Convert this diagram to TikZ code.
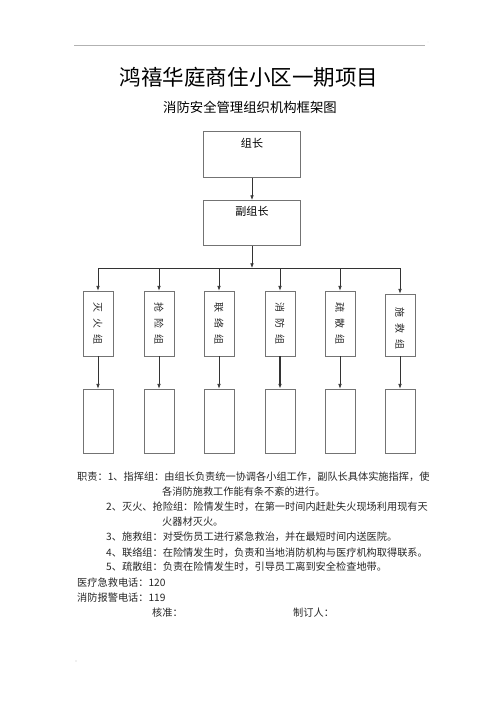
\documentclass[tikz,border=0pt]{standalone}
\usepackage{fontspec}
\setmainfont{Noto Sans CJK SC}
\usetikzlibrary{arrows.meta,positioning}

\begin{document}
\begin{tikzpicture}[x=0.03cm, y=-0.03cm,
    fleche/.style={-{Latex[length=4pt,width=3pt]}, draw=black!80, line width=0.5pt},
    boite/.style={draw=black!55, line width=0.6pt, minimum width=2.91cm, minimum height=1.36cm, inner sep=0pt},
    colonne/.style={draw=black!55, line width=0.6pt, minimum width=0.9cm, minimum height=1.95cm, inner sep=0pt},
    vertical/.style={rotate=-90, font=\fontsize{8.5pt}{9pt}\selectfont, text=black!85},
    ligne/.style={anchor=west, inner sep=0pt, font=\fontsize{8.7pt}{10pt}\selectfont, text=black!85}]
                \useasboundingbox (0,0) rectangle (500,708);

                % En-tête de page
                \draw[gray!60, line width=0.5pt] (74,45) -- (425,45);
                \fill[gray!50] (428,42) circle (0.4pt);
                \node (titre) at (249,77) {\fontsize{18.4pt}{20pt}\selectfont 鸿禧华庭商住小区一期项目};
                \node (soustitre) at (250,107) {\fontsize{11.4pt}{13pt}\selectfont 消防安全管理组织机构框架图};

                % Direction
                \node[boite, label={[anchor=north, yshift=-2pt, font=\fontsize{9.4pt}{10pt}\selectfont]north:组长}] (chef) at (252,154.5) {};
                \node[boite, label={[anchor=north, yshift=-2pt, font=\fontsize{9.4pt}{10pt}\selectfont]north:副组长}] (adjoint) at (252,223) {};
                \draw[fleche] (chef) -- (adjoint);

                % Colonnes des groupes
                \node[colonne] (g1) at (98,323.5) {};
                \node[colonne] (g2) at (159,323.5) {};
                \node[colonne] (g3) at (219,323.5) {};
                \node[colonne] (g4) at (280,323.5) {};
                \node[colonne] (g5) at (340,323.5) {};
                \node[colonne, minimum height=1.86cm] (g6) at (400,325) {};
                \node[vertical] at (g1) {灭\hspace{5pt}火\hspace{5pt}组};
                \node[vertical] at (g2) {抢\hspace{5pt}险\hspace{5pt}组};
                \node[vertical] at (g3) {联\hspace{5pt}络\hspace{5pt}组};
                \node[vertical] at (g4) {消\hspace{5pt}防\hspace{5pt}组};
                \node[vertical] at (g5) {疏\hspace{5pt}散\hspace{5pt}组};
                \node[vertical] at ([yshift=-3pt]g6.center) {施\hspace{5pt}救\hspace{5pt}组};

                % Cases vides sous chaque groupe
                \node[colonne, minimum height=1.92cm] (b1) at (98,421) {};
                \node[colonne, minimum height=1.92cm] (b2) at (159,421) {};
                \node[colonne, minimum height=1.92cm] (b3) at (219,421) {};
                \node[colonne, minimum height=1.92cm] (b4) at (280,421) {};
                \node[colonne, minimum height=1.92cm] (b5) at (340,421) {};
                \node[colonne, minimum height=1.92cm] (b6) at (400,421) {};

                % Barre de répartition
                \coordinate (bus) at (252,268);
                \draw[fleche] (adjoint) -- (bus);
                \draw[black!80, line width=0.5pt] (g1 |- bus) -- (g6 |- bus);
                \draw[fleche] (g1 |- bus) -- (g1);
                \draw[fleche] (g2 |- bus) -- (g2);
                \draw[fleche] (g3 |- bus) -- (g3);
                \draw[fleche] (g4 |- bus) -- (g4);
                \draw[fleche] (g5 |- bus) -- (g5);
                \draw[fleche] (g6 |- bus) -- (g6);
                \draw[fleche] (g1) -- (b1);
                \draw[fleche] (g2) -- (b2);
                \draw[fleche] (g3) -- (b3);
                \draw[fleche, line width=0.9pt] (g4) -- (b4);
                \draw[fleche] (g5) -- (b5);
                \draw[fleche] (g6) -- (b6);

                % Texte des responsabilités
                \node[ligne] (l1) at (77,477) {职责：1、指挥组：由组长负责统一协调各小组工作，副队长具体实施指挥，使};
                \node[ligne] (l2) at (162,492) {各消防施救工作能有条不紊的进行。};
                \node[ligne] (l3) at (106,507) {2、灭火、抢险组：险情发生时，在第一时间内赶赴失火现场利用现有天};
                \node[ligne] (l4) at (162,522) {火器材灭火。};
                \node[ligne] (l5) at (106,537) {3、施救组：对受伤员工进行紧急救治，并在最短时间内送医院。};
                \node[ligne] (l6) at (106,553) {4、联络组：在险情发生时，负责和当地消防机构与医疗机构取得联系。};
                \node[ligne] (l7) at (106,567) {5、疏散组：负责在险情发生时，引导员工离到安全检查地带。};
                \node[ligne] (l8) at (77,583) {医疗急救电话：120};
                \node[ligne] (l9) at (77,598) {消防报警电话：119};
                \node[ligne] (l10) at (152,613) {核准：};
                \node[ligne] (l11) at (293,613) {制订人：};
                \fill[gray!50] (76,661) circle (0.5pt);
            \end{tikzpicture}
\end{document}
